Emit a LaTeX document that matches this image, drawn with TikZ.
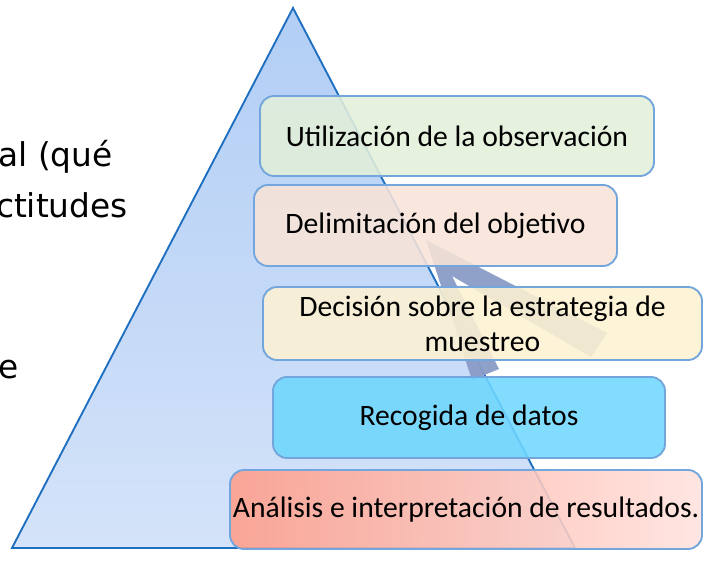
\documentclass[tikz,border=0pt]{standalone}
\usepackage{fontspec}
\setmainfont{Carlito}
\newfontfamily\ladofont{DejaVu Sans}
\definecolor{borde}{HTML}{72A6DC}
\definecolor{trazo}{HTML}{1F6FC0}
\definecolor{cielo}{HTML}{B2CEF5}
\definecolor{cielobajo}{HTML}{D4E3F9}
\definecolor{verde}{HTML}{E2EFDA}
\definecolor{melocoton}{HTML}{F8E4D8}
\definecolor{crema}{HTML}{FDF1D2}
\definecolor{cian}{HTML}{6FD7FD}
\definecolor{salmon}{HTML}{FF9D89}
\definecolor{rosado}{HTML}{FFE2DE}
\definecolor{banda}{HTML}{8A9CC6}
\begin{document}
\begin{tikzpicture}[
  x=0.03cm, y=-0.03cm,
  etapa/.style={draw=borde, line width=1.6pt, rounded corners=12pt, fill opacity=0.88, text opacity=1, align=center, inner sep=2pt, font=\fontsize{25.3}{30}\selectfont},
  utilizacion/.style={etapa, fill=verde, minimum width=11.82cm, minimum height=2.4cm},
  delimitacion/.style={etapa, fill=melocoton, minimum width=10.89cm, minimum height=2.43cm},
  decision/.style={etapa, fill=crema, minimum width=13.17cm, minimum height=2.19cm},
  recogida/.style={etapa, fill=cian, minimum width=11.76cm, minimum height=2.43cm},
  analisis/.style={etapa, left color=salmon, right color=rosado, minimum width=14.16cm, minimum height=2.37cm},
  lado/.style={anchor=base east, inner sep=0pt, font=\ladofont\fontsize{28}{33}\selectfont}
  ]
  \useasboundingbox (0,0) rectangle (703,570);

  % Left text (cut off by the page edge)
  \node (lado1) [lado] at (113,167) {al (qué};
  \node (lado2) [lado] at (128,218) {ctitudes};
  \node (lado3) [lado] at (19,378) {e};

  % Pyramid
  \shade[top color=cielo, bottom color=cielobajo, draw=trazo, line width=1.6pt, line join=miter]
    (293,8) -- (575,548) -- (12,548) -- cycle;

  % Band behind the boxes
  \fill[banda, opacity=0.95] (426,240) -- (607,333) -- (591,357) -- (452,276)
    -- (499,369) -- (472,380) -- cycle;

  % Nodes
  \node (utilizacion) [utilizacion] at (457,136) {Utilización de la observación};
  \node (delimitacion) [delimitacion] at (435.5,225.5) {Delimitación del objetivo};
  \node (decision) [decision] at (482.5,323.5) {Decisión sobre la estrategia de\\muestreo};
  \node (recogida) [recogida] at (469,417.5) {Recogida de datos};
  \node (analisis) [analisis] at (466,509.5) {Análisis e interpretación de resultados.};

\end{tikzpicture}
\end{document}
